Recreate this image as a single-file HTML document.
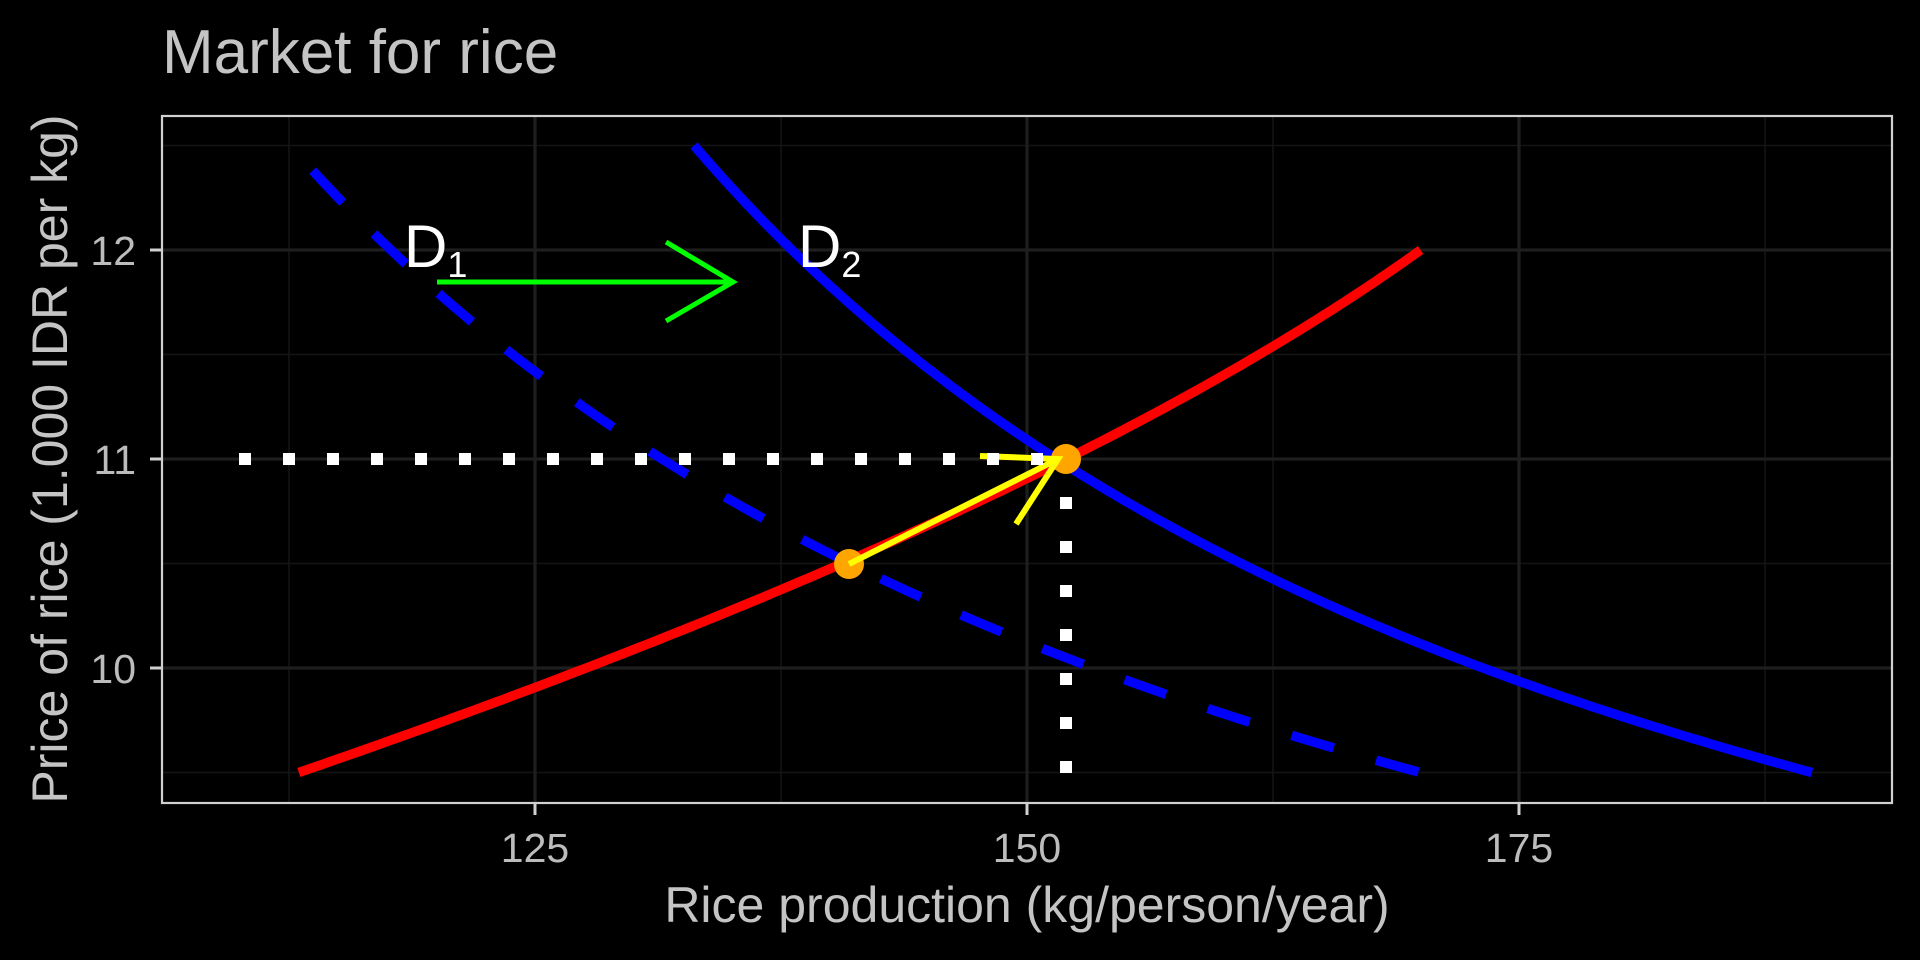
<!DOCTYPE html>
<html><head><meta charset="utf-8"><style>
html,body{margin:0;padding:0;background:#000;}
svg{display:block;}
text{font-family:"Liberation Sans",Arial,sans-serif;}
</style></head><body>
<svg id="s" width="1920" height="960" viewBox="0 0 1920 960" xmlns="http://www.w3.org/2000/svg">
<rect width="1920" height="960" fill="#000"/>
<g stroke="#141414" stroke-width="1.6">
<line x1="289" y1="116" x2="289" y2="803"/><line x1="781" y1="116" x2="781" y2="803"/><line x1="1273" y1="116" x2="1273" y2="803"/><line x1="1765" y1="116" x2="1765" y2="803"/>
<line x1="162" y1="145.5" x2="1892" y2="145.5"/><line x1="162" y1="354.5" x2="1892" y2="354.5"/><line x1="162" y1="563.5" x2="1892" y2="563.5"/><line x1="162" y1="772.5" x2="1892" y2="772.5"/>
</g>
<g stroke="#1e1e1e" stroke-width="3.2">
<line x1="535" y1="116" x2="535" y2="803"/><line x1="1027" y1="116" x2="1027" y2="803"/><line x1="1519" y1="116" x2="1519" y2="803"/>
<line x1="162" y1="250" x2="1892" y2="250"/><line x1="162" y1="459" x2="1892" y2="459"/><line x1="162" y1="668" x2="1892" y2="668"/>
</g>
<g id="curves"></g>
<rect x="162" y="116" width="1730" height="687" fill="none" stroke="#d0d0d0" stroke-width="2.2"/>
<g stroke="#d0d0d0" stroke-width="3">
<line x1="150" y1="250" x2="162" y2="250"/><line x1="150" y1="459" x2="162" y2="459"/><line x1="150" y1="668" x2="162" y2="668"/>
<line x1="535" y1="803" x2="535" y2="815"/><line x1="1027" y1="803" x2="1027" y2="815"/><line x1="1519" y1="803" x2="1519" y2="815"/>
</g>
<g fill="#bcbcbc" font-size="41">
<text x="136" y="265" text-anchor="end">12</text>
<text x="136" y="474" text-anchor="end">11</text>
<text x="136" y="683" text-anchor="end">10</text>
<text x="535" y="862" text-anchor="middle">125</text>
<text x="1027" y="862" text-anchor="middle">150</text>
<text x="1519" y="862" text-anchor="middle">175</text>
</g>
<text x="1027" y="922" text-anchor="middle" fill="#c4c4c4" font-size="50">Rice production (kg/person/year)</text>
<text transform="translate(67,459) rotate(-90)" text-anchor="middle" fill="#c4c4c4" font-size="50">Price of rice (1.000 IDR per kg)</text>
<text x="162" y="73" fill="#c4c4c4" font-size="62">Market for rice</text>
</svg>
<script>
var ns="http://www.w3.org/2000/svg";
function px(x){return 1027+(x-150)*19.68;}
function py(y){return 459-(y-11)*209;}
function mk(tag,attrs){var e=document.createElementNS(ns,tag);for(var k in attrs)e.setAttribute(k,attrs[k]);document.getElementById("curves").appendChild(e);return e;}
function poly(f,y0,y1){var p=[];for(var i=0;i<=200;i++){var y=y0+(y1-y0)*i/200;var x=f(y);p.push(px(x).toFixed(1)+","+py(y).toFixed(1));}return "M"+p.join(" L");}
// D1 dashed
mk("path",{d:poly(function(y){return 57.25+325.6/(y-6.612);},12.38,9.5),fill:"none",stroke:"#0000ff","stroke-width":9.5,"stroke-dasharray":"44 44"});
// D2 solid
mk("path",{d:poly(function(y){return 80.77+301.5/(y-6.737);},12.5,9.5),fill:"none",stroke:"#0000ff","stroke-width":9.5});
// supply
mk("path",{d:poly(function(y){return 152+21.2*(y-11)-3.2*(y-11)*(y-11);},9.5,12),fill:"none",stroke:"#ff0000","stroke-width":9.5});
// orange points
mk("circle",{cx:849,cy:564,r:15,fill:"#ffa500"});
mk("circle",{cx:1066,cy:459,r:15,fill:"#ffa500"});
// yellow arrow
mk("path",{d:"M849,564 L1058,459 M980,456 L1058,459 L1016,524",fill:"none",stroke:"#ffff00","stroke-width":6});
// green arrow
mk("path",{d:"M437,282 L733,282 M666,242 L733,282 L666,321",fill:"none",stroke:"#00ff00","stroke-width":5});
// white dots
for(var k=0;k<=18;k++){var cx=245+44*k;if(cx>1070)break;mk("rect",{x:cx-6,y:453,width:12,height:12,fill:"#fff"});}
for(var k=1;k<=7;k++){mk("rect",{x:1060,y:459+44*k-6,width:12,height:12,fill:"#fff"});}
// labels
var t=mk("text",{x:404,y:267,fill:"#fff","font-size":60});t.textContent="D";
var s=mk("tspan",{"font-size":36,dy:10});s.textContent="1";t.appendChild(s);
t=mk("text",{x:798,y:267,fill:"#fff","font-size":60});t.textContent="D";
s=mk("tspan",{"font-size":36,dy:10});s.textContent="2";t.appendChild(s);
</script>
</body></html>
